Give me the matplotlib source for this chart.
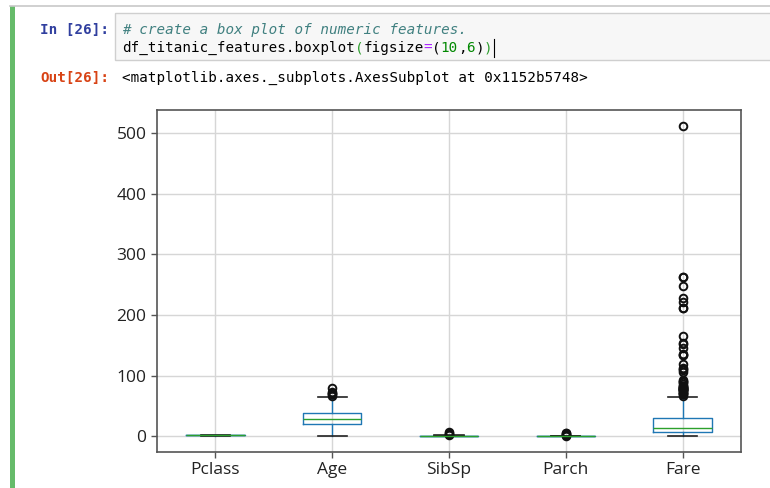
import matplotlib.pyplot as plt
from matplotlib.patches import Rectangle
from matplotlib.lines import Line2D

# titanic numeric features, five-number summaries plus outliers
columns = ['Pclass', 'Age', 'SibSp', 'Parch', 'Fare']
q1 = [2, 20.125, 0, 0, 7.9104]
medians = [3, 28, 0, 0, 14.4542]
q3 = [3, 38, 1, 0, 31]
whisker_lo = [1, 0.42, 0, 0, 0]
whisker_hi = [3, 65, 2, 0, 65]

pclass_out = []
age_out = [66, 70, 70.5, 71, 74, 80]
sibsp_out = [3, 4, 5, 8]
parch_out = [1, 2, 3, 4, 5, 6]
fare_out = [66.6, 69.3, 69.55, 71, 71.2833, 73.5, 75.25, 76.2917, 76.7292,
            77.2875, 77.9583, 78.2667, 78.85, 79.2, 79.65, 80, 81.8583,
            82.1708, 83.1583, 83.475, 86.5, 89.1042, 90, 91.0792, 93.5,
            106.425, 108.9, 110.8833, 113.275, 120, 133.65, 134.5, 135.6333,
            146.5208, 151.55, 153.4625, 164.8667, 211.3375, 211.5, 221.7792,
            227.525, 247.5208, 262.375, 263, 512.3292]
fliers = [pclass_out, age_out, sibsp_out, parch_out, fare_out]

W, H, DPI = 770, 488, 100
fig = plt.figure(figsize=(W / DPI, H / DPI), dpi=DPI)
fig.patch.set_facecolor('white')

def px(x, y):
    return x / W, 1 - y / H

# notebook cell frame
fig.add_artist(Line2D([10 / W, 1], [1 - 6 / H] * 2, color='#c8c8c8', lw=1.2))
fig.add_artist(Rectangle(px(10, 488), 4.5 / W, 482 / H, color='#66bb6a', lw=0))
fig.add_artist(Rectangle(px(115, 60), 660 / W, 47 / H, facecolor='#f7f7f7',
                         edgecolor='#cfcfcf', lw=1))

mono = 'DejaVu Sans Mono'
fs = 10.3
cw = 0.602 * fs * DPI / 72  # monospace advance in pixels

def code(x, y, parts, **kw):
    for txt, col in parts:
        fig.text(*px(x, y), txt, color=col, family=mono, fontsize=fs,
                 va='center', ha='left', **kw)
        x += len(txt) * cw
    return x

code(40, 30, [('In [26]:', '#303f9f')], weight='bold')
code(40, 78, [('Out[26]:', '#d84315')], weight='bold')
code(122, 30, [('# create a box plot of numeric features.', '#408080')],
     style='italic')
end = code(122, 48, [('df_titanic_features.boxplot', 'black'), ('(', '#2e9e2e'),
                     ('figsize', 'black'), ('=', '#aa22ff'), ('(', 'black'),
                     ('10', '#008800'), (',', 'black'), ('6', '#008800'),
                     (')', 'black'), (')', '#2e9e2e')])
fig.add_artist(Line2D([(end + 2) / W] * 2, [1 - 39 / H, 1 - 57 / H],
                      color='black', lw=0.8))
code(122, 78, [('<matplotlib.axes._subplots.AxesSubplot at 0x1152b5748>', 'black')])

# box plot output
ax = fig.add_axes([157 / W, 36 / H, 584 / W, 342 / H])
stats = []
for i, name in enumerate(columns):
    stats.append({'label': name, 'q1': q1[i], 'med': medians[i], 'q3': q3[i],
                  'whislo': whisker_lo[i], 'whishi': whisker_hi[i],
                  'fliers': fliers[i]})

blue, green = '#1f77b4', '#2ca02c'
ax.bxp(stats, widths=0.5, showfliers=True,
       boxprops=dict(color=blue, lw=1),
       whiskerprops=dict(color=blue, lw=1),
       capprops=dict(color='#222222', lw=1.2),
       medianprops=dict(color=green, lw=1),
       flierprops=dict(marker='o', markerfacecolor='none',
                       markeredgecolor='#111111', markersize=5.5,
                       markeredgewidth=1.4))

ax.set_ylim(-25.6, 537.9)
ax.set_yticks([0, 100, 200, 300, 400, 500])
ax.grid(True, color='#d6d6d6', lw=1)
ax.set_axisbelow(True)
for s in ax.spines.values():
    s.set_color('#555555')
    s.set_linewidth(1.2)
ax.tick_params(colors='#555555', labelcolor='#222222', length=4, width=1)
for lab in ax.get_xticklabels() + ax.get_yticklabels():
    lab.set_family('Open Sans')
    lab.set_fontsize(12.5)

fig.savefig('out.png', dpi=DPI)
